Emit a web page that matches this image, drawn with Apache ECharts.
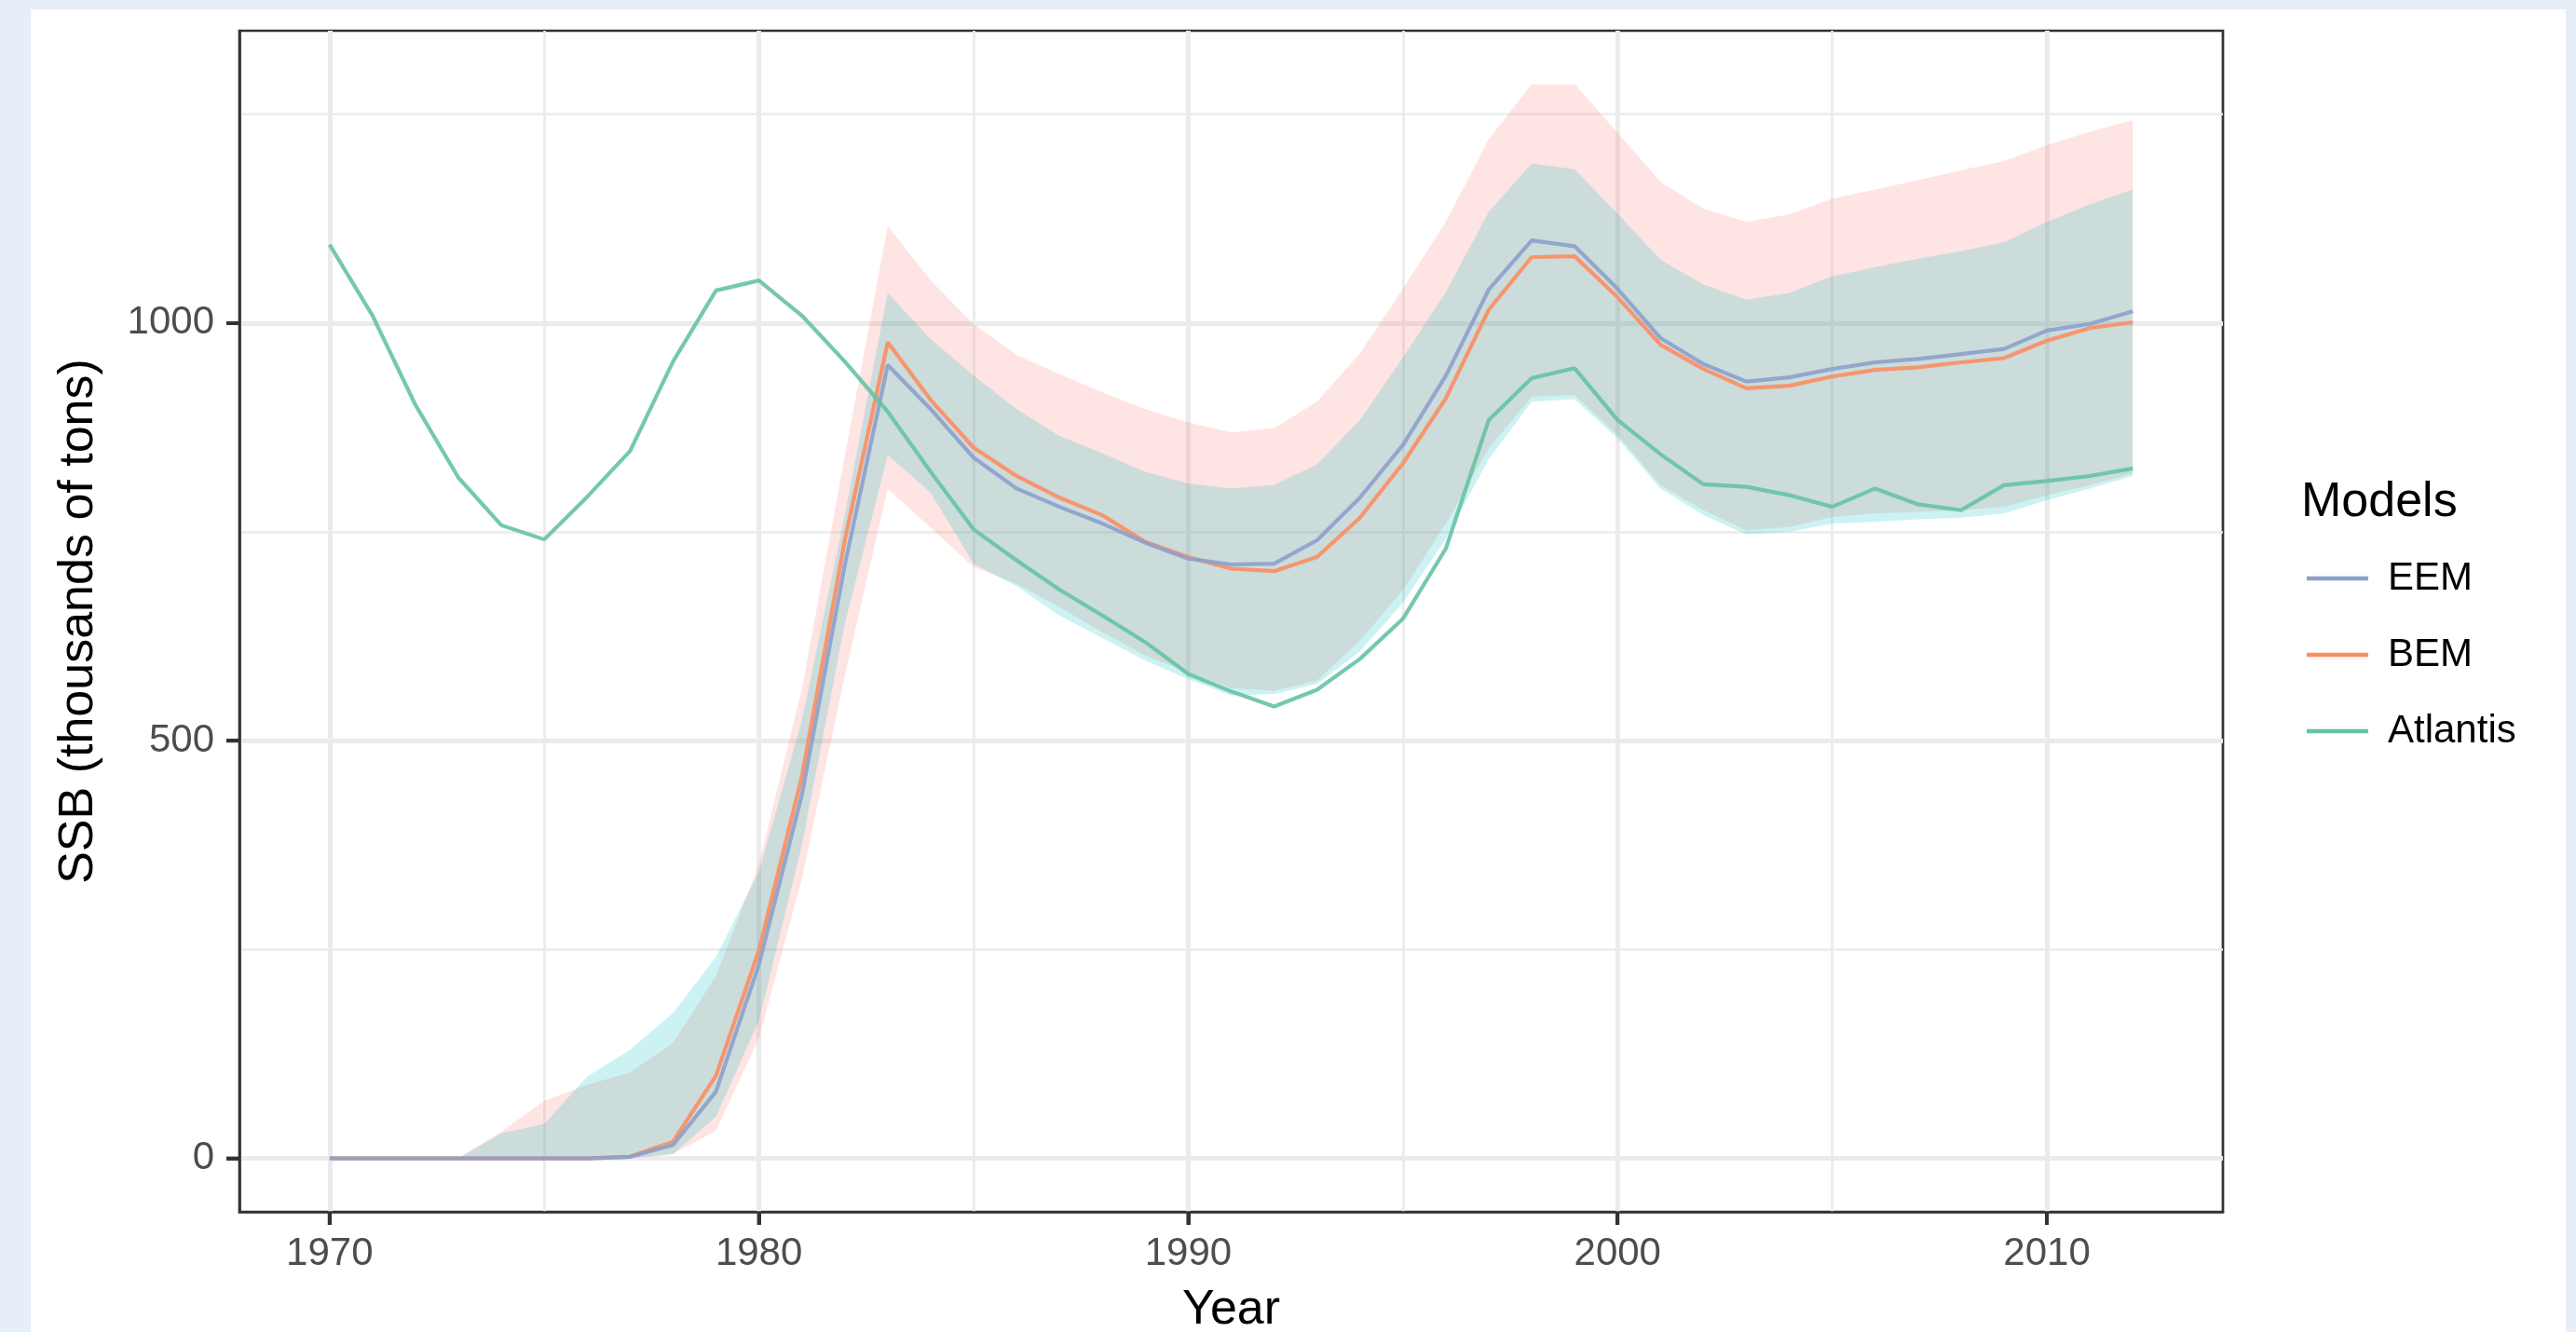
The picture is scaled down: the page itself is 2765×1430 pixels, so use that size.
<!DOCTYPE html>
<html><head><meta charset="utf-8">
<script src="https://cdn.jsdelivr.net/npm/echarts@6/dist/echarts.min.js"></script>
<style>
html,body{margin:0;padding:0;background:#e6eef7;width:2765px;height:1430px;overflow:hidden}
#c{position:absolute;left:33px;top:10px;width:2721px;height:1420px;background:#ffffff}
</style></head><body><div id="c"></div>
<script>
const years = [1970,1971,1972,1973,1974,1975,1976,1977,1978,1979,1980,1981,1982,1983,1984,1985,1986,1987,1988,1989,1990,1991,1992,1993,1994,1995,1996,1997,1998,1999,2000,2001,2002,2003,2004,2005,2006,2007,2008,2009,2010,2011,2012];
const eem = [0,0,0,0,0,0,0,2,16,80,232,435,710,950,897,839,802,780,760,737,718,711,712,740,791,854,937,1040,1099,1092,1041,982,951,930,935,945,953,957,963,969,991,999,1014];
const bem = [0,0,0,0,0,0,0,2,20,99,249,457,740,977,908,851,817,791,770,738,720,706,703,720,767,832,910,1016,1079,1080,1031,974,945,922,925,936,944,947,953,958,979,994,1001];
const atlantis = [1094,1009,902,815,758,741,792,847,954,1039,1051,1009,954,894,822,753,716,681,650,618,580,559,541,561,598,646,730,884,934,946,884,843,807,804,794,780,802,783,776,806,811,817,826];
const pinkLow = [0,0,0,0,0,0,0,0,5,33,144,335,578,802,755,708,688,660,630,602,582,563,560,572,620,680,760,850,912,914,866,806,776,752,756,768,772,774,776,780,794,806,820];
const pinkHigh = [0,0,0,0,32,69,88,103,138,218,352,562,840,1116,1051,999,962,939,917,897,881,869,874,906,964,1041,1121,1220,1286,1286,1228,1169,1137,1121,1130,1149,1160,1171,1183,1194,1213,1229,1243];
const cyanLow = [0,0,0,0,0,0,0,0,5,50,165,375,640,842,797,712,685,650,623,596,574,554,556,568,607,665,742,837,906,909,862,802,770,747,750,760,762,765,767,772,788,802,817];
const cyanHigh = [0,0,0,0,30,41,98,130,174,241,343,524,770,1036,981,937,897,865,844,822,808,802,806,831,884,959,1037,1133,1191,1184,1131,1076,1046,1028,1036,1056,1067,1077,1086,1097,1121,1142,1160];
const xMajor = [1970,1980,1990,2000,2010];
const xMinor = [1975,1985,1995,2005];
const yMajor = [0,500,1000];
const yMinor = [250,750,1250];
const modelNames = ['EEM','BEM','Atlantis'];
const modelColors = ['#8DA0CB','#FC8D62','#66C2A5'];

const pairs = arr => years.map((y,i)=>[y,arr[i]]);
const FONT = 'Liberation Sans, Arial, sans-serif';
const XMIN = 1967.9, XMAX = 2014.1, YMIN = -64, YMAX = 1350;
const TICK = 14;

function band(low, high, color){
  return {
    type:'custom', silent:true, z:1,
    data: years.map((y,i)=>[y, low[i], high[i]]),
    encode:{x:0, y:[1,2]},
    renderItem:function(params, api){
      if (params.dataIndex !== 0) return null;
      const pts = [];
      for (let i=0;i<years.length;i++) pts.push(api.coord([years[i], high[i]]));
      for (let i=years.length-1;i>=0;i--) pts.push(api.coord([years[i], low[i]]));
      return {type:'polygon', shape:{points:pts}, style:{fill:color, stroke:null}};
    }
  };
}
// axis tick marks placed through the axes' own scales
function tickSeries(values, horizontal){
  return {
    type:'custom', silent:true, clip:false, z:6,
    data: values.map(v => horizontal ? [v, YMIN] : [XMIN, v]),
    encode:{x:0, y:1},
    renderItem:function(params, api){
      const p = api.coord([api.value(0), api.value(1)]);
      const shape = horizontal
        ? {x:p[0]-2, y:p[1], width:4, height:TICK}
        : {x:p[0]-TICK, y:p[1]-2, width:TICK, height:4};
      return {type:'rect', shape:shape, style:{fill:'#333333'}};
    }
  };
}
const lineData = {EEM:eem, BEM:bem, Atlantis:atlantis};
const lineSeries = ['BEM','EEM','Atlantis'].map(n=>({
  type:'line', name:n, data:pairs(lineData[n]), symbol:'none', showSymbol:false,
  color:modelColors[modelNames.indexOf(n)],
  lineStyle:{width:4.2, opacity:0.9}, z:3
}));
const noComma = v => String(v);

const chart = echarts.init(document.getElementById('c'), null, {renderer:'canvas'});
chart.setOption({
  animation:false,
  backgroundColor:'#ffffff',
  title:{text:'Models', left:2437, top:504, padding:0,
    textStyle:{fontFamily:FONT, fontSize:52, fontWeight:'normal', color:'#000'}},
  legend:{data:modelNames, orient:'vertical', left:2443, top:586, padding:0,
    itemWidth:66, itemHeight:4.5, itemGap:32, icon:'rect',
    itemStyle:{opacity:1},
    textStyle:{fontFamily:FONT, fontSize:42, color:'#000', lineHeight:50, padding:[0,0,0,16]}},
  grid:{left:224, top:23, width:2129, height:1268, show:true, borderColor:'#333333', borderWidth:2.7,
        backgroundColor:'transparent', containLabel:false, outerBoundsMode:'none'},
  xAxis:[
    {type:'value', min:XMIN, max:XMAX, position:'bottom',
     name:'Year', nameLocation:'middle', nameGap:80,
     nameTextStyle:{fontFamily:FONT, fontSize:52, color:'#000'},
     axisLine:{show:true, onZeroAxisIndex:2, lineStyle:{color:'#333333', width:2.7}},
     axisTick:{show:true, length:TICK, customValues:xMajor, lineStyle:{color:'#333333', width:4}},
     axisLabel:{show:true, customValues:xMajor, formatter:noComma, margin:24, fontFamily:FONT, fontSize:42, color:'#4d4d4d'},
     splitLine:{show:true, lineStyle:{color:'#ebebeb', width:5}}},
    {type:'value', min:XMIN, max:XMAX, position:'top',
     axisLine:{show:false}, axisLabel:{show:false},
     axisTick:{show:false, customValues:xMinor},
     splitLine:{show:true, lineStyle:{color:'#ebebeb', width:2.7}}}
  ],
  yAxis:[
    {type:'value', min:YMIN, max:YMAX, position:'left',
     name:'SSB (thousands of tons)', nameLocation:'middle', nameGap:146,
     nameTextStyle:{fontFamily:FONT, fontSize:52, color:'#000'},
     axisLine:{show:true, lineStyle:{color:'#333333', width:2.7}},
     axisTick:{show:true, length:TICK, customValues:yMajor, lineStyle:{color:'#333333', width:4}},
     axisLabel:{show:true, customValues:yMajor, formatter:noComma, margin:27, fontFamily:FONT, fontSize:42, color:'#4d4d4d'},
     splitLine:{show:true, lineStyle:{color:'#ebebeb', width:5}}},
    {type:'value', min:YMIN, max:YMAX, position:'right',
     axisLine:{show:false}, axisLabel:{show:false},
     axisTick:{show:false, customValues:yMinor},
     splitLine:{show:true, lineStyle:{color:'#ebebeb', width:2.7}}},
    {type:'value', min:1, max:2, position:'right', show:false}
  ],
  series:[
    band(pinkLow, pinkHigh, 'rgba(248,118,109,0.2)'),
    band(cyanLow, cyanHigh, 'rgba(0,191,196,0.2)'),
    ...lineSeries,
    tickSeries(xMajor, true),
    tickSeries(yMajor, false)
  ]
});
</script></body></html>
